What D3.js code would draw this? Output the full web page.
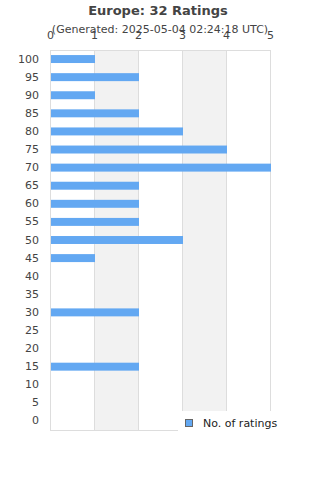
<!DOCTYPE html>
<html>
<head>
<meta charset="utf-8">
<script src="https://cdn.jsdelivr.net/npm/d3@7"></script>
<style>
body { margin: 0; background: #fff; }
text { font-family: "DejaVu Sans", sans-serif; }
</style>
</head>
<body>
<svg id="chart" width="320" height="480"></svg>
<script>
// Datos
const categorias = ["100", "95", "90", "85", "80", "75", "70", "65", "60", "55", "50", "45", "40", "35", "30", "25", "20", "15", "10", "5", "0"]
const valores = [1, 2, 1, 2, 3, 4, 5, 2, 2, 2, 3, 1, 0, 0, 2, 0, 0, 2, 0, 0, 0]
const ticksX = [0, 1, 2, 3, 4, 5]

const svg = d3.select('#chart')
const mLeft = 50, mRight = 270, mTop = 50, mBottom = 430

const x = d3.scaleLinear().domain([0, 5]).range([mLeft, mRight])
const y = d3.scaleBand().domain(categorias).range([mTop, mBottom]).paddingInner(0.56).paddingOuter(0.28)

// Bandas alternas
svg.append('g')
    .selectAll('rect')
    .data([1, 3])
    .join('rect')
    .attr('x', d => x(d))
    .attr('y', mTop)
    .attr('width', d => x(d + 1) - x(d))
    .attr('height', mBottom - mTop)
    .attr('fill', '#f2f2f2')

// Rejilla
svg.append('g')
    .selectAll('line')
    .data(ticksX)
    .join('line')
    .attr('x1', d => x(d) + 0.5).attr('x2', d => x(d) + 0.5)
    .attr('y1', mTop).attr('y2', mBottom)
    .attr('stroke', '#dddddd')
    .attr('stroke-width', 1)

svg.append('line')
    .attr('x1', mLeft).attr('x2', mRight)
    .attr('y1', mTop + 0.5).attr('y2', mTop + 0.5)
    .attr('stroke', '#dddddd')
svg.append('line')
    .attr('x1', mLeft).attr('x2', mRight)
    .attr('y1', mBottom + 0.5).attr('y2', mBottom + 0.5)
    .attr('stroke', '#dddddd')

// Barras
svg.append('g')
    .selectAll('rect')
    .data(valores)
    .join('rect')
    .attr('x', x(0) + 1)
    .attr('y', (d, i) => y(categorias[i]))
    .attr('width', d => Math.max(0, x(d) - x(0)))
    .attr('height', y.bandwidth())
    .attr('fill', '#63a8f2')

// Ejes
const xAxis = svg.append('g')
    .attr('transform', `translate(0, ${mTop - 8})`)
    .call(d3.axisTop(x).tickValues(ticksX).tickSize(0).tickFormat(d3.format('d')))
xAxis.select('.domain').remove()
xAxis.selectAll('text')
    .attr('font-size', '11px')
    .attr('fill', '#444')
    .attr('font-family', '"DejaVu Sans", sans-serif')

const yAxis = svg.append('g')
    .attr('transform', `translate(${mLeft - 8}, 0)`)
    .call(d3.axisLeft(y).tickSize(0))
yAxis.select('.domain').remove()
yAxis.selectAll('text')
    .attr('font-size', '11px')
    .attr('fill', '#444')
    .attr('font-family', '"DejaVu Sans", sans-serif')

// Titulos
svg.append('text')
    .text('Europe: 32 Ratings')
    .attr('x', 158)
    .attr('y', 15)
    .attr('text-anchor', 'middle')
    .attr('font-weight', 'bold')
    .attr('font-size', '13px')
    .attr('fill', '#444')

svg.append('text')
    .text('(Generated: 2025-05-04 02:24:18 UTC)')
    .attr('x', 160)
    .attr('y', 33)
    .attr('text-anchor', 'middle')
    .attr('font-size', '11px')
    .attr('fill', '#444')

// Leyenda
const leyenda = svg.append('g')
leyenda.append('rect')
    .attr('x', 178).attr('y', 411)
    .attr('width', 142).attr('height', 24)
    .attr('fill', '#fff')
leyenda.append('rect')
    .attr('x', 185.5).attr('y', 419.5)
    .attr('width', 7).attr('height', 7)
    .attr('fill', '#63a8f2')
    .attr('stroke', '#666')
leyenda.append('text')
    .text('No. of ratings')
    .attr('x', 203)
    .attr('y', 427)
    .attr('font-size', '11px')
    .attr('fill', '#222')
</script>
</body>
</html>
